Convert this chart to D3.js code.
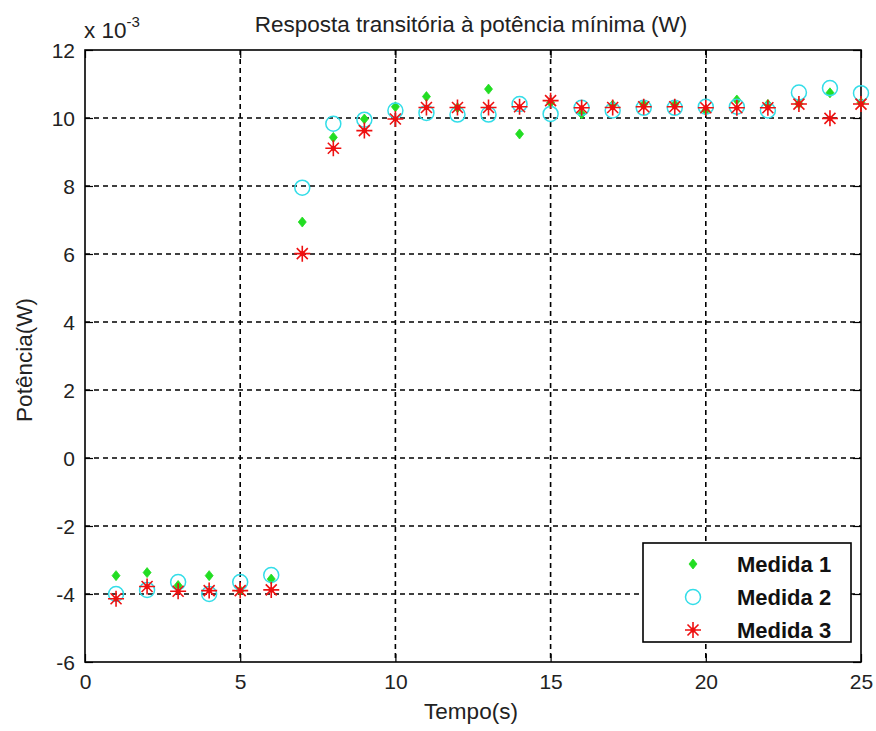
<!DOCTYPE html>
<html>
<head>
<meta charset="utf-8">
<script src="https://cdn.jsdelivr.net/npm/d3@7"></script>
<style>
  body { margin: 0; background: #fff; }
  svg { display: block; font-family: "Liberation Sans", Arial, sans-serif; }
</style>
</head>
<body>
<svg id="chart" width="876" height="731"></svg>
<script>
// Time samples (s)
const tempo = [1,2,3,4,5,6,7,8,9,10,11,12,13,14,15,16,17,18,19,20,21,22,23,24,25];
// Power readings, in units of 10^-3 W
const medida1 = [-3.46,-3.37,-3.75,-3.46,-3.9,-3.56,6.94,9.43,9.97,10.33,10.63,10.3,10.85,9.53,10.45,10.12,10.38,10.4,10.4,10.22,10.53,10.4,10.42,10.74,10.45];
const medida2 = [-4.0,-3.88,-3.65,-4.0,-3.65,-3.44,7.95,9.83,9.95,10.22,10.15,10.1,10.1,10.41,10.12,10.3,10.22,10.3,10.3,10.33,10.33,10.22,10.75,10.88,10.73];
const medida3 = [-4.14,-3.78,-3.92,-3.9,-3.9,-3.88,6.01,9.11,9.63,9.97,10.31,10.31,10.31,10.33,10.51,10.3,10.31,10.33,10.33,10.3,10.3,10.3,10.41,9.99,10.41];
const xTicks = [0,5,10,15,20,25];
const yTicks = [-6,-4,-2,0,2,4,6,8,10,12];
const seriesNames = ["Medida 1","Medida 2","Medida 3"];

const svg = d3.select("#chart");
const m = { left: 85, right: 861, top: 50, bottom: 662 };
const x = d3.scaleLinear().domain([0, 25]).range([m.left, m.right]);
const y = d3.scaleLinear().domain([-6, 12]).range([m.bottom, m.top]);
const plain = d => String(d);
const textCol = "#222";

// dashed grid
const grid = svg.append("g");
grid.selectAll("line.gx").data(xTicks.slice(1, -1)).join("line")
  .attr("x1", d => x(d)).attr("x2", d => x(d))
  .attr("y1", m.top).attr("y2", m.bottom)
  .attr("stroke", "#000").attr("stroke-width", 1.6).attr("stroke-dasharray", "5,4");
grid.selectAll("line.gy").data(yTicks.slice(1, -1)).join("line")
  .attr("y1", d => y(d)).attr("y2", d => y(d))
  .attr("x1", m.left).attr("x2", m.right)
  .attr("stroke", "#000").attr("stroke-width", 1.6).attr("stroke-dasharray", "5,4");

// axes with inward ticks
const tickLen = 8;
const xAxis = svg.append("g").attr("transform", `translate(0,${m.bottom})`)
  .call(d3.axisBottom(x).tickValues(xTicks).tickFormat(plain).tickSizeInner(-tickLen).tickSizeOuter(0).tickPadding(12));
const xAxisTop = svg.append("g").attr("transform", `translate(0,${m.top})`)
  .call(d3.axisTop(x).tickValues(xTicks).tickSizeInner(-tickLen).tickSizeOuter(0).tickFormat(""));
const yAxis = svg.append("g").attr("transform", `translate(${m.left},0)`)
  .call(d3.axisLeft(y).tickValues(yTicks).tickFormat(plain).tickSizeInner(-tickLen).tickSizeOuter(0).tickPadding(10));
const yAxisR = svg.append("g").attr("transform", `translate(${m.right},0)`)
  .call(d3.axisRight(y).tickValues(yTicks).tickSizeInner(-tickLen).tickSizeOuter(0).tickFormat(""));
[xAxis, xAxisTop, yAxis, yAxisR].forEach(a => {
  a.select(".domain").remove();
  a.selectAll("line").attr("stroke", "#000").attr("stroke-width", 1.2);
  a.selectAll("text").attr("font-size", 21).attr("fill", textCol)
    .attr("font-family", "\"Liberation Sans\", Arial, sans-serif");
});
yAxis.selectAll("text").attr("dy", "0.35em");

// frame
svg.append("rect").attr("x", m.left).attr("y", m.top)
  .attr("width", m.right - m.left).attr("height", m.bottom - m.top)
  .attr("fill", "none").attr("stroke", "#000").attr("stroke-width", 1.6);

// marker drawers
function diamond(g, cx, cy) {
  g.append("path").attr("d", `M${cx},${cy-5}L${cx+4},${cy}L${cx},${cy+5}L${cx-4},${cy}Z`)
    .attr("fill", "#22dd22").attr("stroke", "#22dd22").attr("stroke-width", 0.8);
}
function ring(g, cx, cy) {
  g.append("circle").attr("cx", cx).attr("cy", cy).attr("r", 7.5)
    .attr("fill", "none").attr("stroke", "#33dde8").attr("stroke-width", 1.5);
}
function star(g, cx, cy) {
  const r = 8, rd = 5.5;
  g.append("path").attr("d",
    `M${cx-r},${cy}H${cx+r}M${cx},${cy-r}V${cy+r}` +
    `M${cx-rd},${cy-rd}L${cx+rd},${cy+rd}M${cx-rd},${cy+rd}L${cx+rd},${cy-rd}`)
    .attr("stroke", "#ee1111").attr("stroke-width", 1.6).attr("fill", "none");
  g.append("circle").attr("cx", cx).attr("cy", cy).attr("r", 2.6).attr("fill", "#ee1111");
}
const drawers = [diamond, ring, star];
const seriesData = [medida1, medida2, medida3];

const marks = svg.append("g");
seriesData.forEach((vals, si) => {
  const g = marks.append("g").attr("class", "series-" + (si + 1));
  vals.forEach((v, i) => drawers[si](g, x(tempo[i]), y(v)));
});

// title and labels
svg.append("text").attr("x", 471).attr("y", 32).attr("text-anchor", "middle")
  .attr("font-size", 22.5).attr("fill", textCol).text("Resposta transitória à potência mínima (W)");
svg.append("text").attr("x", 471).attr("y", 719).attr("text-anchor", "middle")
  .attr("font-size", 22.5).attr("fill", textCol).text("Tempo(s)");
svg.append("text").attr("transform", "translate(32,360) rotate(-90)").attr("text-anchor", "middle")
  .attr("font-size", 22.5).attr("fill", textCol).text("Potência(W)");
const exp = svg.append("text").attr("x", 84).attr("y", 38).attr("font-size", 22.5).attr("fill", textCol);
exp.append("tspan").text("x 10");
exp.append("tspan").attr("dy", -11).attr("font-size", 15).text("-3");

// legend
const lg = svg.append("g");
lg.append("rect").attr("x", 643).attr("y", 543).attr("width", 208).attr("height", 99)
  .attr("fill", "#fff").attr("stroke", "#000").attr("stroke-width", 1.6);
seriesNames.forEach((name, i) => {
  const cy = 564 + i * 33;
  drawers[i](lg, 693, cy);
  lg.append("text").attr("x", 737).attr("y", cy).attr("dy", "0.36em")
    .attr("font-size", 22).attr("font-weight", "bold").attr("fill", "#111").text(name);
});
</script>
</body>
</html>
